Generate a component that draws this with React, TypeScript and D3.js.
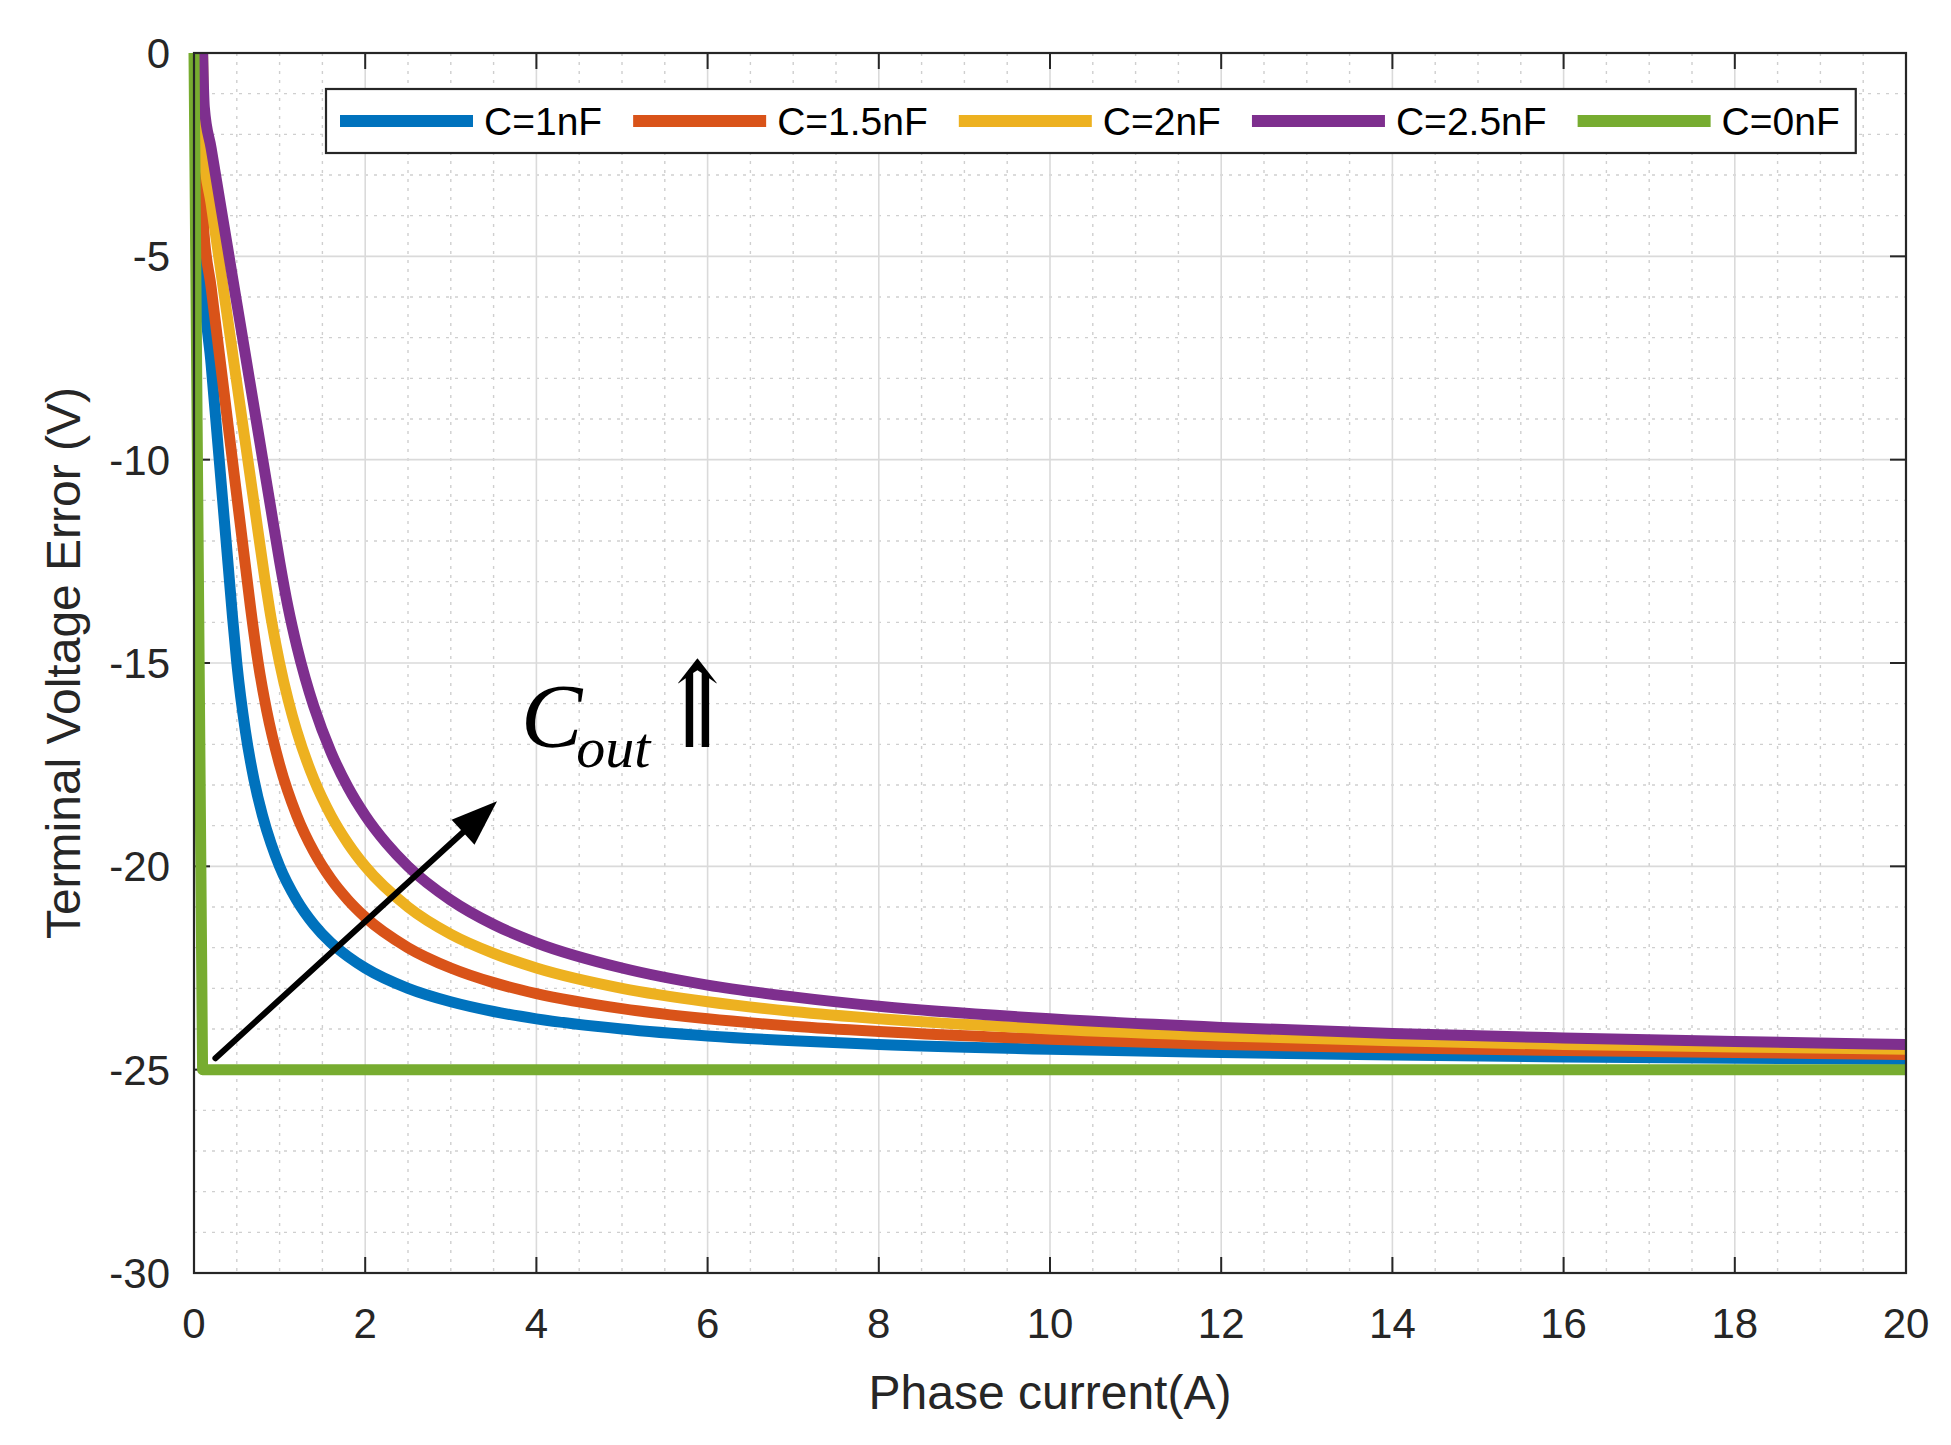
import React from "react";
import * as d3 from "d3";

// ---------- data ----------
const xTicks = [0, 2, 4, 6, 8, 10, 12, 14, 16, 18, 20];
const yTicks = [0, -5, -10, -15, -20, -25, -30];
const xLabel = "Phase current(A)";
const yLabel = "Terminal Voltage Error (V)";

const seriesNames = ["C=1nF", "C=1.5nF", "C=2nF", "C=2.5nF", "C=0nF"];
const seriesColors = ["#0072BD", "#D95319", "#EDB120", "#7E2F8E", "#77AC30"];

const blueX = [0.1, 0.11, 0.2, 0.3, 0.4, 0.45, 0.5, 0.6, 0.7, 0.8, 0.9, 1.0, 1.2, 1.4, 1.6, 1.8, 2.0, 2.5, 3, 3.5, 4, 5, 6, 7, 8, 10, 12, 14, 16, 18, 20];
const blueY = [0, -5.4, -7.66, -10.14, -12.62, -13.87, -15.0, -16.67, -17.86, -18.75, -19.44, -20.0, -20.83, -21.43, -21.88, -22.22, -22.5, -23.0, -23.33, -23.57, -23.75, -24.0, -24.17, -24.29, -24.38, -24.5, -24.58, -24.64, -24.69, -24.72, -24.75];

const orangeX = [0.1, 0.11, 0.2, 0.3, 0.4, 0.5, 0.6, 0.66, 0.75, 0.85, 1.0, 1.2, 1.4, 1.6, 1.8, 2.0, 2.5, 3, 3.5, 4, 5, 6, 7, 8, 10, 12, 14, 16, 18, 20];
const orangeY = [0, -4.22, -5.76, -7.47, -9.18, -10.89, -12.6, -13.63, -15.0, -16.18, -17.5, -18.75, -19.64, -20.31, -20.83, -21.25, -22.0, -22.5, -22.86, -23.13, -23.5, -23.75, -23.93, -24.06, -24.25, -24.38, -24.46, -24.53, -24.58, -24.63];

const yellowX = [0.1, 0.11, 0.2, 0.3, 0.4, 0.5, 0.6, 0.7, 0.825, 0.9, 1.0, 1.1, 1.2, 1.4, 1.6, 1.8, 2.0, 2.5, 3, 3.5, 4, 5, 6, 7, 8, 10, 12, 14, 16, 18, 20];
const yellowY = [0, -2.38, -3.7, -5.17, -6.64, -8.11, -9.58, -11.05, -12.89, -13.89, -15.0, -15.91, -16.67, -17.86, -18.75, -19.44, -20.0, -21.0, -21.67, -22.14, -22.5, -23.0, -23.33, -23.57, -23.75, -24.0, -24.17, -24.29, -24.38, -24.44, -24.5];

const purpleX = [0.1, 0.12, 0.2, 0.3, 0.4, 0.5, 0.6, 0.7, 0.8, 0.9, 1.0, 1.1, 1.2, 1.3, 1.4, 1.6, 1.8, 2.0, 2.25, 2.5, 3, 3.5, 4, 5, 6, 7, 8, 10, 12, 14, 16, 18, 20];
const purpleY = [0, -1.32, -2.34, -3.61, -4.88, -6.15, -7.42, -8.69, -9.96, -11.23, -12.5, -13.64, -14.58, -15.38, -16.07, -17.19, -18.06, -18.75, -19.44, -20.0, -20.83, -21.43, -21.88, -22.5, -22.92, -23.21, -23.44, -23.75, -23.96, -24.11, -24.22, -24.31, -24.38];

const greenX = [0, 0.1, 20];
const greenY = [0, -25, -25];

// annotation arrow (data coordinates: tail, tip)
const arrowTail = [0.25, -24.72];
const arrowTip = [3.54, -18.4];
const annotText = { main: "C", sub: "out", symbol: "\u21D1" };

// ---------- layout ----------
const W = 1951;
const H = 1445;
const left = 194;
const right = 1906;
const top = 53;
const bottom = 1273;

const FONT = "'Liberation Sans', Arial, Helvetica, sans-serif";

function measure(text: string, size: number, family: string) {
  if (typeof document === "undefined") return text.length * size * 0.55;
  const c = document.createElement("canvas");
  const ctx = c.getContext("2d");
  if (!ctx) return text.length * size * 0.55;
  ctx.font = `${size}px ${family}`;
  return ctx.measureText(text).width;
}

export default function App() {
  const x = d3.scaleLinear().domain([0, 20]).range([left, right]);
  const y = d3.scaleLinear().domain([-30, 0]).range([bottom, top]);

  const seriesX = [blueX, orangeX, yellowX, purpleX, greenX];
  const seriesY = [blueY, orangeY, yellowY, purpleY, greenY];

  const line = d3
    .line<[number, number]>()
    .x((d) => x(d[0]))
    .y((d) => y(d[1]))
    .curve(d3.curveMonotoneX);
  const straight = d3
    .line<[number, number]>()
    .x((d) => x(d[0]))
    .y((d) => y(d[1]));

  const minorX = d3.range(0, 20.001, 0.5).filter((v) => Math.abs(v % 2) > 1e-6);
  const minorY = d3.range(-30, 0.001, 1).filter((v) => Math.abs(v % 5) > 1e-6);

  // legend layout
  const legFont = 39;
  const legLine = 133;
  const legGap = 11;
  const legAfter = 31;
  const legTop = 89;
  const legBottom = 153;
  const legLeft = 326;
  const legItems: { lx: number; tx: number }[] = [];
  let cur = 340;
  seriesNames.forEach((n) => {
    const tx = cur + legLine + legGap;
    legItems.push({ lx: cur, tx });
    cur = tx + measure(n, legFont, FONT) + legAfter;
  });
  const legRight = cur - legAfter + 16;
  const legMid = (legTop + legBottom) / 2;

  // arrow geometry
  const ax1 = x(arrowTail[0]);
  const ay1 = y(arrowTail[1]);
  const ax2 = x(arrowTip[0]);
  const ay2 = y(arrowTip[1]);
  const ang = Math.atan2(ay2 - ay1, ax2 - ax1);
  const headLen = 46;
  const headW = 17;
  const bx = ax2 - headLen * Math.cos(ang);
  const by = ay2 - headLen * Math.sin(ang);
  const px = -Math.sin(ang);
  const py = Math.cos(ang);
  const head = `M${ax2},${ay2} L${bx + headW * px},${by + headW * py} L${bx - headW * px},${by - headW * py} Z`;

  const cX = x(3.82);
  const cY = y(-17.06);
  const symX = x(5.42);

  return (
    <svg
      width={W}
      height={H}
      viewBox={`0 0 ${W} ${H}`}
      style={{ position: "absolute", left: 0, top: 0, background: "#fff" }}
    >
      <rect x={0} y={0} width={W} height={H} fill="#fff" />
      {/* minor grid */}
      <g stroke="#cfcfcf" strokeWidth={1.4} strokeDasharray="3,6">
        {minorX.map((v) => (
          <line key={"mx" + v} x1={x(v)} x2={x(v)} y1={top} y2={bottom} />
        ))}
        {minorY.map((v) => (
          <line key={"my" + v} x1={left} x2={right} y1={y(v)} y2={y(v)} />
        ))}
      </g>
      {/* major grid */}
      <g stroke="#dadada" strokeWidth={1.6}>
        {xTicks.map((v) => (
          <line key={"gx" + v} x1={x(v)} x2={x(v)} y1={top} y2={bottom} />
        ))}
        {yTicks.map((v) => (
          <line key={"gy" + v} x1={left} x2={right} y1={y(v)} y2={y(v)} />
        ))}
      </g>

      {/* ticks */}
      <g stroke="#262626" strokeWidth={2}>
        {xTicks.map((v) => (
          <g key={"tx" + v}>
            <line x1={x(v)} x2={x(v)} y1={bottom} y2={bottom - 16} />
            <line x1={x(v)} x2={x(v)} y1={top} y2={top + 16} />
          </g>
        ))}
        {yTicks.map((v) => (
          <g key={"ty" + v}>
            <line x1={left} x2={left + 16} y1={y(v)} y2={y(v)} />
            <line x1={right} x2={right - 16} y1={y(v)} y2={y(v)} />
          </g>
        ))}
      </g>

      {/* series */}
      <g fill="none" strokeWidth={11} strokeLinejoin="round">
        {seriesX.map((xs, i) => {
          const pts = xs.map((v, j) => [v, seriesY[i][j]] as [number, number]);
          const d = i === 4 ? straight(pts) : line(pts);
          return <path key={seriesNames[i]} d={d || ""} stroke={seriesColors[i]} />;
        })}
      </g>

      {/* axes box */}
      <rect
        x={left}
        y={top}
        width={right - left}
        height={bottom - top}
        fill="none"
        stroke="#262626"
        strokeWidth={2.2}
      />

      {/* tick labels */}
      <g fontFamily={FONT} fontSize={42} fill="#262626">
        {xTicks.map((v) => (
          <text key={"lx" + v} x={x(v)} y={bottom + 65} textAnchor="middle">
            {v}
          </text>
        ))}
        {yTicks.map((v) => (
          <text key={"ly" + v} x={left - 24} y={y(v) + 15} textAnchor="end">
            {v}
          </text>
        ))}
      </g>

      {/* axis labels */}
      <text
        x={(left + right) / 2}
        y={1409}
        textAnchor="middle"
        fontFamily={FONT}
        fontSize={48}
        fill="#262626"
      >
        {xLabel}
      </text>
      <text
        transform={`translate(80, ${(top + bottom) / 2}) rotate(-90)`}
        textAnchor="middle"
        fontFamily={FONT}
        fontSize={48}
        fill="#262626"
      >
        {yLabel}
      </text>

      {/* legend */}
      <rect
        x={legLeft}
        y={legTop}
        width={legRight - legLeft}
        height={legBottom - legTop}
        fill="#fff"
        stroke="#262626"
        strokeWidth={2.2}
      />
      {seriesNames.map((n, i) => (
        <g key={"leg" + n}>
          <line
            x1={legItems[i].lx}
            x2={legItems[i].lx + legLine}
            y1={legMid}
            y2={legMid}
            stroke={seriesColors[i]}
            strokeWidth={12}
          />
          <text
            x={legItems[i].tx}
            y={legMid + 14}
            fontFamily={FONT}
            fontSize={legFont}
            fill="#000"
          >
            {n}
          </text>
        </g>
      ))}

      {/* annotation */}
      <line x1={ax1} y1={ay1} x2={bx} y2={by} stroke="#000" strokeWidth={6} strokeLinecap="round" />
      <path d={head} fill="#000" />
      <text x={cX} y={cY} fontFamily="'Liberation Serif', 'Times New Roman', serif" fontStyle="italic" fill="#000">
        <tspan fontSize={92}>{annotText.main}</tspan>
        <tspan fontSize={58} dy={20} dx={-6}>{annotText.sub}</tspan>
      </text>
      <text
        transform={`translate(${symX}, ${cY}) scale(1.15, 1.45)`}
        x={0}
        y={0}
        fontFamily="'DejaVu Serif', serif"
        fontSize={82}
        fontWeight={300}
        fill="#000"
      >
        {annotText.symbol}
      </text>
    </svg>
  );
}
